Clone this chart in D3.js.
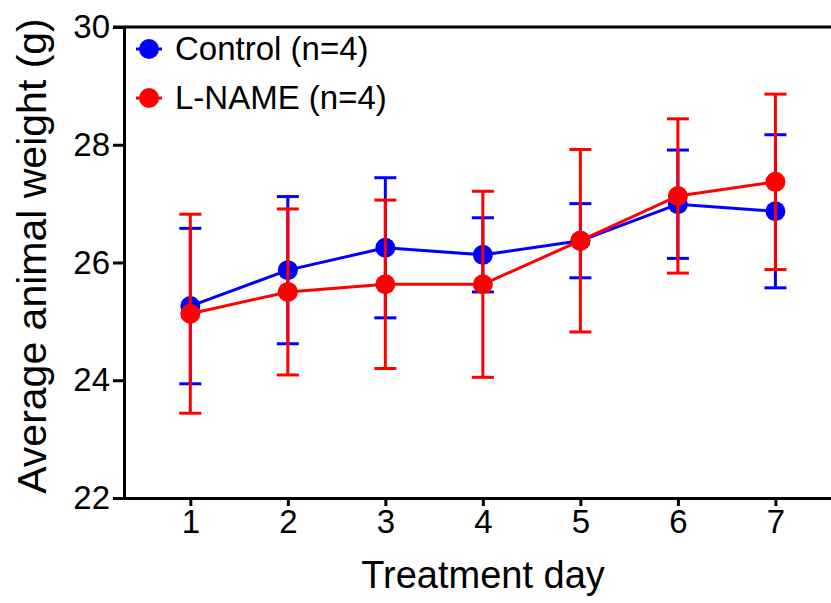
<!doctype html>
<html>
<head>
<style type="text/css">
body { margin: 0; background: white; }
text { font-family: "Liberation Sans", Arial, sans-serif; fill: black; }
.axis text { font-size: 33px; }
.axis path, .axis line { stroke: black; stroke-width: 3px; }
.title { font-size: 38px; text-anchor: middle; }
.ytitle { font-size: 41px; text-anchor: middle; }
.legend text { font-size: 33px; }
</style>
</head>
<body>
<svg width="831" height="603"></svg>
<script src="https://d3js.org/d3.v7.min.js"></script>
<script>
var days = [1, 2, 3, 4, 5, 6, 7];
var controlMean = [25.26, 25.87, 26.25, 26.13, 26.37, 26.99, 26.87];
var controlSD = [1.32, 1.25, 1.19, 0.63, 0.63, 0.92, 1.30];
var lnameMean = [25.13, 25.50, 25.63, 25.63, 26.37, 27.13, 27.37];
var lnameSD = [1.69, 1.41, 1.43, 1.58, 1.55, 1.31, 1.49];
var yTicks = [22, 24, 26, 28, 30];
var seriesNames = ["Control (n=4)", "L-NAME (n=4)"];
var seriesColors = ["#0000ff", "#ff0000"];

var svg = d3.select("svg");

var x = d3.scaleLinear().domain([0.32, 7.57]).range([124, 831]);
var y = d3.scaleLinear().domain([22, 30]).range([498, 27]);

// top frame line
svg.append("line")
    .attr("x1", 113).attr("x2", 831)
    .attr("y1", y(30)).attr("y2", y(30))
    .attr("stroke", "black").attr("stroke-width", 3);

svg.append("g")
    .attr("class", "axis")
    .attr("transform", "translate(0," + y(22) + ")")
    .call(d3.axisBottom(x).tickValues(days).tickSize(8).tickPadding(4).tickSizeOuter(0));

svg.append("g")
    .attr("class", "axis")
    .attr("transform", "translate(" + x(0.32) + ",0)")
    .call(d3.axisLeft(y).tickValues(yTicks).tickSize(11).tickPadding(3).tickSizeOuter(0));

svg.selectAll(".axis .domain").attr("stroke-linecap", "square");

svg.append("text")
    .attr("class", "title")
    .attr("x", 483).attr("y", 588)
    .text("Treatment day");

svg.append("text")
    .attr("class", "ytitle")
    .attr("transform", "translate(46,256) rotate(-90)")
    .text("Average animal weight (g)");

var series = [
    {name: seriesNames[0], color: seriesColors[0], mean: controlMean, sd: controlSD},
    {name: seriesNames[1], color: seriesColors[1], mean: lnameMean, sd: lnameSD}
];

var line = d3.line()
    .x(function(d) { return x(d.day); })
    .y(function(d) { return y(d.mean); });

series.forEach(function(s) {
    var pts = days.map(function(d, i) { return {day: d, mean: s.mean[i], sd: s.sd[i]}; });
    var g = svg.append("g");

    var eb = g.selectAll("g.err").data(pts).enter().append("g")
        .attr("stroke", s.color).attr("stroke-width", 3);
    eb.append("line")
        .attr("x1", function(d) { return x(d.day); })
        .attr("x2", function(d) { return x(d.day); })
        .attr("y1", function(d) { return y(d.mean + d.sd); })
        .attr("y2", function(d) { return y(d.mean - d.sd); });
    [1, -1].forEach(function(sign) {
        eb.append("line")
            .attr("x1", function(d) { return x(d.day) - 11; })
            .attr("x2", function(d) { return x(d.day) + 11; })
            .attr("y1", function(d) { return y(d.mean + sign * d.sd); })
            .attr("y2", function(d) { return y(d.mean + sign * d.sd); });
    });

    g.append("path")
        .datum(pts)
        .attr("d", line)
        .attr("fill", "none")
        .attr("stroke", s.color)
        .attr("stroke-width", 3);

    g.selectAll("circle").data(pts).enter().append("circle")
        .attr("cx", function(d) { return x(d.day); })
        .attr("cy", function(d) { return y(d.mean); })
        .attr("r", 10)
        .attr("fill", s.color);
});

var legend = svg.append("g").attr("class", "legend");
var li = legend.selectAll("g").data(series).enter().append("g")
    .attr("transform", function(d, i) { return "translate(149," + (49 + i * 49) + ")"; });
li.append("line")
    .attr("x1", -13).attr("x2", 13)
    .attr("stroke", function(d) { return d.color; })
    .attr("stroke-width", 3);
li.append("circle")
    .attr("r", 10)
    .attr("fill", function(d) { return d.color; });
li.append("text")
    .attr("x", 26).attr("y", 11)
    .text(function(d) { return d.name; });
</script>
</body>
</html>
